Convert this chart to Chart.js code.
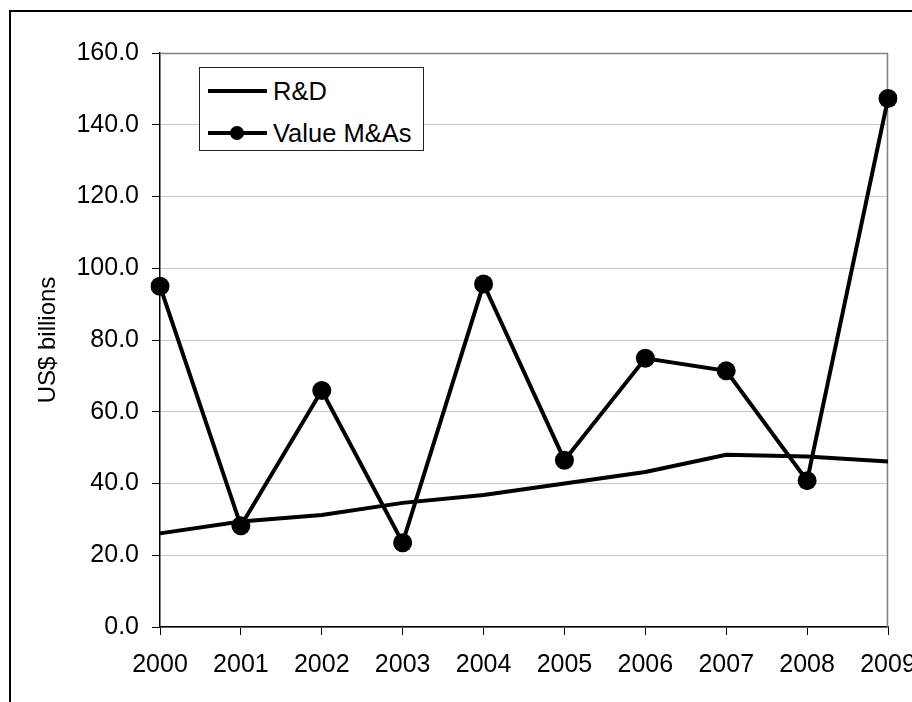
<!DOCTYPE html>
<html>
<head>
<meta charset="utf-8">
<script src="https://cdn.jsdelivr.net/npm/chart.js@4/dist/chart.umd.min.js"></script>
<style>
  html, body { margin: 0; padding: 0; background: #fff; overflow: hidden; width: 912px; height: 702px; }
  #frame { position: absolute; left: 9px; top: 10px; width: 1000px; height: 800px; border: 2px solid #000; box-sizing: border-box; }
  #c { position: absolute; left: 0; top: 0; }
  #legend { position: absolute; left: 199px; top: 67px; width: 225px; height: 84px; border: 1px solid #222; box-sizing: border-box; background: #fff;
            font-family: "Liberation Sans", Arial, sans-serif; font-size: 25.5px; color: #000; }
  .row { position: absolute; left: 0; height: 30px; width: 100%; }
  .ln { position: absolute; left: 8px; width: 59px; height: 4px; background: #000; top: 13px; }
  .dot { position: absolute; left: 30px; top: 8px; width: 14px; height: 14px; border-radius: 50%; background: #000; }
  .tx { position: absolute; left: 73px; top: 0; line-height: 30px; white-space: nowrap; }
</style>
</head>
<body>
<div id="frame"></div>
<canvas id="c" width="912" height="702"></canvas>
<div id="legend">
  <div class="row" style="top:8px"><div class="ln"></div><div class="tx">R&amp;D</div></div>
  <div class="row" style="top:50px"><div class="ln"></div><div class="dot"></div><div class="tx">Value M&amp;As</div></div>
</div>
<script>
const years = ['2000','2001','2002','2003','2004','2005','2006','2007','2008','2009'];
const rdValues = [26.1, 29.4, 31.2, 34.6, 36.8, 40.0, 43.2, 48.0, 47.5, 46.1];
const maValues = [95.0, 28.2, 65.9, 23.5, 95.6, 46.5, 74.9, 71.4, 40.8, 147.3];
const yMin = 0, yMax = 160, yStep = 20;
const yTitle = 'US$ billions';

const FONT = '"Liberation Sans", Arial, sans-serif';

const frameLines = {
  id: 'frameLines',
  beforeDatasetsDraw(chart) {
    const a = chart.chartArea, ctx = chart.ctx;
    ctx.save();
    ctx.strokeStyle = '#808080';
    ctx.lineWidth = 1.5;
    ctx.beginPath();
    ctx.moveTo(a.left, a.top + 0.5);
    ctx.lineTo(a.right, a.top + 0.5);
    ctx.moveTo(a.right - 0.5, a.top);
    ctx.lineTo(a.right - 0.5, a.bottom);
    ctx.stroke();
    ctx.restore();
  }
};

new Chart(document.getElementById('c'), {
  type: 'line',
  data: {
    labels: years,
    datasets: [
      { label: 'R&D', data: rdValues, borderColor: '#000', backgroundColor: '#000', borderWidth: 4, pointRadius: 0, tension: 0 },
      { label: 'Value M&As', data: maValues, borderColor: '#000', backgroundColor: '#000', borderWidth: 4, pointRadius: 9.5, pointBorderWidth: 0, pointBackgroundColor: '#000', tension: 0 }
    ]
  },
  options: {
    responsive: false,
    animation: false,
    devicePixelRatio: 1,
    layout: { padding: { left: 30, top: 53, right: 24, bottom: 0 } },
    plugins: { legend: { display: false }, tooltip: { enabled: false } },
    scales: {
      x: {
        type: 'category',
        offset: false,
        grid: { display: true, drawOnChartArea: false, drawTicks: true, tickLength: 8, tickColor: '#000', offset: false },
        border: { display: true, color: '#000', width: 1.5 },
        ticks: { color: '#000', font: { family: FONT, size: 25 }, padding: 15, maxRotation: 0, autoSkip: false },
        afterFit(s) { s.height = 75; s.paddingLeft = 0; s.paddingRight = 0; }
      },
      y: {
        min: yMin, max: yMax,
        grid: { color: '#c8c8c8', lineWidth: 1, tickLength: 8, tickColor: '#000' },
        border: { display: true, color: '#000', width: 1.5 },
        ticks: { stepSize: yStep, color: '#000', font: { family: FONT, size: 25 }, padding: 13, callback: v => Number(v).toFixed(1) },
        title: { display: true, text: yTitle, color: '#000', font: { family: FONT, size: 24 }, padding: { top: 4, bottom: 4 } },
        afterFit(s) { s.width = 130; s.paddingTop = 0; s.paddingBottom = 0; }
      }
    }
  },
  plugins: [frameLines]
});
</script>
</body>
</html>
